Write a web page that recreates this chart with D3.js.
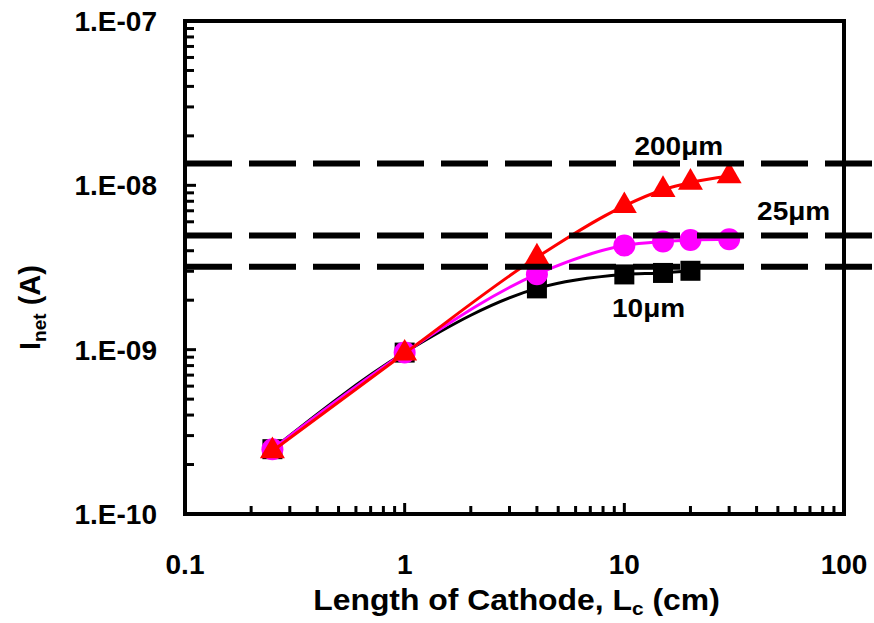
<!doctype html>
<html lang="en">
  <head>
    <meta charset="utf-8">
    <title>Inet vs cathode length</title>
    <script src="https://d3js.org/d3.v7.min.js"></script>
    <style>
    body { margin: 0; background: #fff; }
    text {
      font-family: "Liberation Sans", Arial, sans-serif;
      font-weight: bold;
      fill: #000;
    }
    </style>
  </head>

  <body>
    <svg width="874" height="623"></svg>

    <script>
      // cathode lengths (cm)
      var lengths10 = [0.25, 1, 4, 10, 15, 20];
      var lengths = [0.25, 1, 4, 10, 15, 20, 30];

      // net current (A)
      var inet10 = [2.48e-10, 9.6e-10, 2.36e-9, 2.87e-9, 2.93e-9, 3.02e-9];
      var inet25 = [2.48e-10, 9.6e-10, 2.88e-9, 4.3e-9, 4.55e-9, 4.65e-9, 4.7e-9];
      var inet200 = [2.42e-10, 9.5e-10, 3.65e-9, 7.5e-9, 9.4e-9, 1.04e-8, 1.14e-8];

      // limiting current for each gap (dashed lines)
      var limitNames = ['10\u03bcm', '25\u03bcm', '200\u03bcm'];
      var limitValues = [3.2e-9, 4.95e-9, 1.36e-8];

      var xTickValues = [0.1, 1, 10, 100];
      var xTickLabels = ['0.1', '1', '10', '100'];
      var yTickValues = [1e-10, 1e-9, 1e-8, 1e-7];
      var yTickLabels = ['1.E-10', '1.E-09', '1.E-08', '1.E-07'];

      var margin = {top: 21, right: 30, bottom: 109, left: 185};
      var width = 874 - margin.left - margin.right;
      var height = 623 - margin.top - margin.bottom;

      var svg = d3.select('svg');
      var g = svg.append('g')
        .attr('transform', 'translate(' + margin.left + ',' + margin.top + ')');

      var x = d3.scaleLog().domain([0.1, 100]).range([0, width]);
      var y = d3.scaleLog().domain([1e-10, 1e-7]).range([height, 0]);

      // minor + major ticks, pointing inward
      var xMinor = [];
      var yMinor = [];
      [0.1, 1, 10].forEach(function(d){
        for (var k = 2; k <= 9; k++) xMinor.push(d * k);
      });
      [1e-10, 1e-9, 1e-8].forEach(function(d){
        for (var k = 2; k <= 9; k++) yMinor.push(d * k);
      });

      g.append('g').selectAll('line').data(xMinor.concat(xTickValues))
        .enter().append('line')
          .attr('x1', function(d){ return x(d); })
          .attr('x2', function(d){ return x(d); })
          .attr('y1', height)
          .attr('y2', function(d){ return xTickValues.indexOf(d) >= 0 ? height - 11 : height - 8; })
          .attr('stroke', '#000').attr('stroke-width', 3);

      g.append('g').selectAll('line').data(yMinor.concat(yTickValues))
        .enter().append('line')
          .attr('x1', 0)
          .attr('x2', function(d){ return yTickValues.indexOf(d) >= 0 ? 11 : 9; })
          .attr('y1', function(d){ return y(d); })
          .attr('y2', function(d){ return y(d); })
          .attr('stroke', '#000').attr('stroke-width', 3);

      // tick labels
      g.append('g').selectAll('text').data(xTickValues)
        .enter().append('text')
          .attr('x', function(d){ return x(d); })
          .attr('y', height + 60)
          .attr('text-anchor', 'middle')
          .style('font-size', '28px')
          .text(function(d, i){ return xTickLabels[i]; });

      g.append('g').selectAll('text').data(yTickValues)
        .enter().append('text')
          .attr('x', -28)
          .attr('y', function(d){ return y(d) + 10; })
          .attr('text-anchor', 'end')
          .style('font-size', '28px')
          .text(function(d, i){ return yTickLabels[i]; });

      // axis titles
      var xt = g.append('text')
        .attr('transform', 'translate(' + (width / 2 + 2) + ',' + (height + 96) + ') scale(1.1,1)')
        .attr('text-anchor', 'middle')
        .style('font-size', '29px');
      xt.append('tspan').text('Length of Cathode, L');
      xt.append('tspan').attr('dy', 5).style('font-size', '19px').text('c');
      xt.append('tspan').attr('dy', -5).text(' (cm)');

      var yt = g.append('text')
        .attr('transform', 'translate(-145,' + (height / 2 + 40) + ') rotate(-90)')
        .attr('text-anchor', 'middle')
        .style('font-size', '29px');
      yt.append('tspan').text('I');
      yt.append('tspan').attr('dy', 6).style('font-size', '19px').text('net');
      yt.append('tspan').attr('dy', -6).text(' (A)');

      // series
      var line = d3.line()
        .x(function(d){ return x(d[0]); })
        .y(function(d){ return y(d[1]); })
        .curve(d3.curveMonotoneX);

      var s10 = d3.zip(lengths10, inet10);
      var s25 = d3.zip(lengths, inet25);
      var s200 = d3.zip(lengths, inet200);

      g.append('path').datum(s10)
        .attr('d', line).attr('fill', 'none').attr('stroke', '#000').attr('stroke-width', 3);
      g.append('g').selectAll('rect').data(s10)
        .enter().append('rect')
          .attr('x', function(d){ return x(d[0]) - 10; })
          .attr('y', function(d){ return y(d[1]) - 10; })
          .attr('width', 20).attr('height', 20)
          .attr('fill', '#000');

      g.append('path').datum(s25)
        .attr('d', line).attr('fill', 'none').attr('stroke', '#ff00ff').attr('stroke-width', 3);
      g.append('g').selectAll('circle').data(s25)
        .enter().append('circle')
          .attr('cx', function(d){ return x(d[0]); })
          .attr('cy', function(d){ return y(d[1]); })
          .attr('r', 11)
          .attr('fill', '#ff00ff');

      g.append('path').datum(s200)
        .attr('d', line).attr('fill', 'none').attr('stroke', '#ff0000').attr('stroke-width', 3);
      var tri = d3.symbol().type(d3.symbolTriangle).size(270);
      g.append('g').selectAll('path').data(s200)
        .enter().append('path')
          .attr('transform', function(d){ return 'translate(' + x(d[0]) + ',' + y(d[1]) + ')'; })
          .attr('d', tri)
          .attr('fill', '#ff0000');

      // dashed limit lines, running out to the page edge
      g.append('g').selectAll('line').data(limitValues)
        .enter().append('line')
          .attr('x1', 0)
          .attr('x2', 874 - margin.left)
          .attr('y1', function(d){ return y(d); })
          .attr('y2', function(d){ return y(d); })
          .attr('stroke', '#000')
          .attr('stroke-width', 6)
          .attr('stroke-dasharray', '47,17');

      // frame
      g.append('rect')
        .attr('width', width).attr('height', height)
        .attr('fill', 'none').attr('stroke', '#000').attr('stroke-width', 4);

      // labels for the dashed lines (anchor = text centre on its baseline)
      var labelPos = [[12.9, 1.58e-9], [59, 6.15e-9], [17.7, 1.53e-8]];
      g.append('g').selectAll('text').data(limitNames)
        .enter().append('text')
          .attr('transform', function(d, i){
            return 'translate(' + x(labelPos[i][0]) + ',' + y(labelPos[i][1]) + ') scale(1.12,1)';
          })
          .attr('text-anchor', 'middle')
          .style('font-size', '25px')
          .text(function(d){ return d; });
    </script>
  </body>
</html>
